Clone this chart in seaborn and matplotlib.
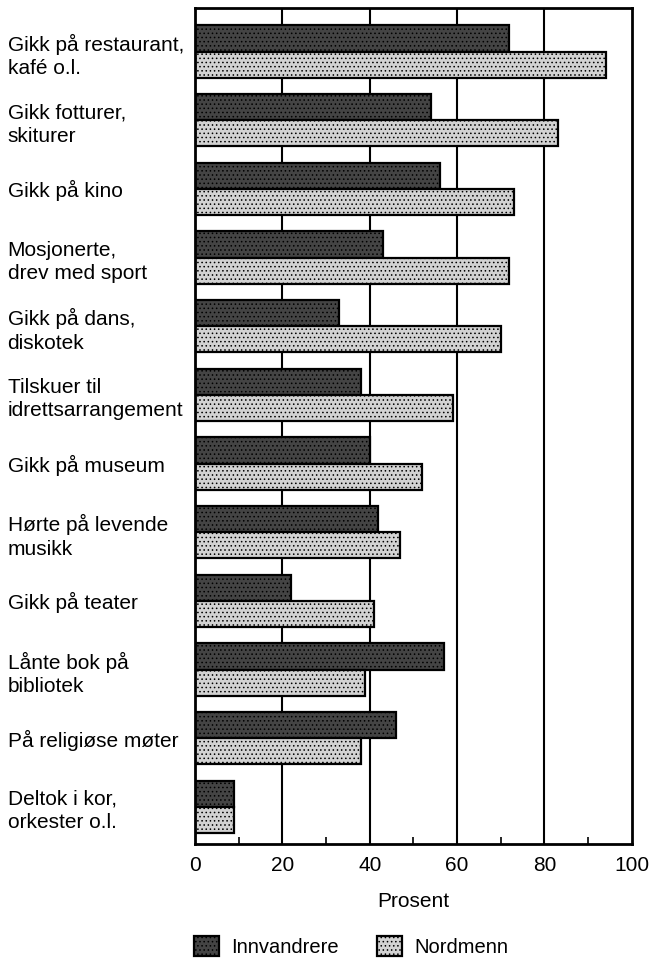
import matplotlib
matplotlib.use("Agg")
import matplotlib.pyplot as plt
from matplotlib.patches import Patch
from matplotlib.ticker import MultipleLocator
import seaborn as sns
import pandas as pd

# Activities (two-line labels where the text wraps)
categories = [
    "Gikk på restaurant,\nkafé o.l.",
    "Gikk fotturer,\nskiturer",
    "Gikk på kino",
    "Mosjonerte,\ndrev med sport",
    "Gikk på dans,\ndiskotek",
    "Tilskuer til\nidrettsarrangement",
    "Gikk på museum",
    "Hørte på levende\nmusikk",
    "Gikk på teater",
    "Lånte bok på\nbibliotek",
    "På religiøse møter",
    "Deltok i kor,\norkester o.l.",
]
innvandrere = [72, 54, 56, 43, 33, 38, 40, 42, 22, 57, 46, 9]
nordmenn = [94, 83, 73, 72, 70, 59, 52, 47, 41, 39, 38, 9]
groups = ["Innvandrere", "Nordmenn"]
xticks = [0, 20, 40, 60, 80, 100]

sns.set_theme(style="white")
plt.rcParams["font.family"] = ["Liberation Sans Narrow", "Liberation Sans", "DejaVu Sans"]
plt.rcParams["hatch.linewidth"] = 0.6
plt.rcParams["text.color"] = "black"
plt.rcParams["axes.labelcolor"] = "black"
plt.rcParams["xtick.color"] = "black"
plt.rcParams["ytick.color"] = "black"

df = pd.DataFrame({
    "Aktivitet": categories * 2,
    "Prosent": innvandrere + nordmenn,
    "Gruppe": [groups[0]] * len(categories) + [groups[1]] * len(categories),
})

colors = {"Innvandrere": "#444444", "Nordmenn": "#d2d2d2"}
hatches = {"Innvandrere": "....", "Nordmenn": "...."}

fig = plt.figure(figsize=(6.5, 9.67), dpi=100)
ax = fig.add_axes([0.300, 0.1272, 0.672, 0.8642])

# gridlines behind the bars
for v in xticks[1:-1]:
    ax.axvline(v, color="black", lw=1.5, zorder=0)

sns.barplot(
    data=df, x="Prosent", y="Aktivitet", hue="Gruppe", orient="h",
    palette=colors, width=0.76, edgecolor="black", linewidth=1.6,
    legend=False, ax=ax, zorder=2,
)
for container, g in zip(ax.containers, groups):
    for bar in container:
        bar.set_hatch(hatches[g])

ax.set_xlim(0, 100)
ax.set_ylim(11.54, -0.63)
ax.set_xticks(xticks)
ax.xaxis.set_minor_locator(MultipleLocator(10))
ax.tick_params(axis="x", which="major", length=0, pad=9, labelsize=15, labelcolor="black")
ax.tick_params(axis="x", which="minor", direction="in", length=5, width=1.2, color="black", bottom=True)
ax.tick_params(axis="y", length=0, labelsize=15, pad=135, labelcolor="black")
for lab in ax.get_yticklabels():
    lab.set_ha("left")
    lab.set_linespacing(1.3)
ax.set_ylabel("")
ax.set_xlabel("Prosent", fontsize=15, labelpad=12, color="black")
for s in ax.spines.values():
    s.set_visible(True)
    s.set_color("black")
    s.set_linewidth(2)

handles = [
    Patch(facecolor=colors[g], edgecolor="black", hatch=hatches[g], linewidth=1.6, label=g)
    for g in groups
]
fig.legend(
    handles=handles, loc="lower center", bbox_to_anchor=(0.54, -0.008), ncol=2,
    frameon=False, fontsize=14.5, handlelength=1.25, handleheight=1.15,
    columnspacing=1.9, handletextpad=0.6, labelcolor="black",
)

fig.savefig("out.png", dpi=100)
